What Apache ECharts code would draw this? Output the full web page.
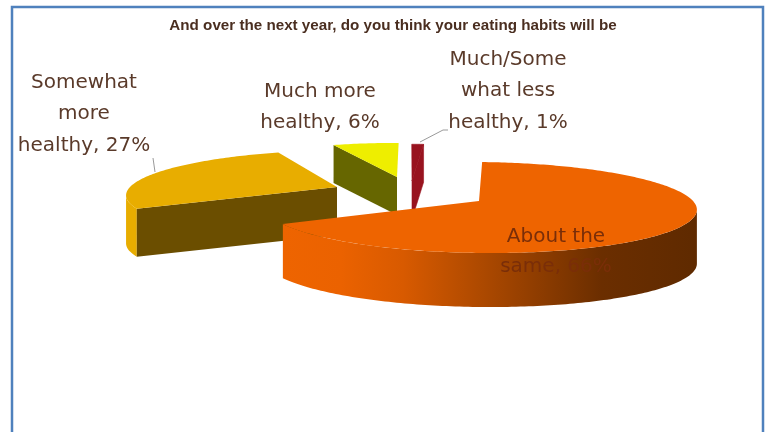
<!DOCTYPE html>
<html>
<head>
<meta charset="utf-8">
<script src="https://cdn.jsdelivr.net/npm/echarts@6/dist/echarts.min.js"></script>
<style>html,body{margin:0;padding:0;background:#fff}#chart{width:768px;height:432px}</style>
</head>
<body>
<div id="chart"></div>
<script>
// Survey answers, listed clockwise around the pie
const categories = ['About the same', 'Somewhat more healthy', 'Much more healthy', 'Much/Some what less healthy'];
const shares = [66, 27, 6, 1];
const labelLines = [
  ['About the', 'same,'],
  ['Somewhat', 'more', 'healthy,'],
  ['Much more', 'healthy,'],
  ['Much/Some', 'what less', 'healthy,']
];
const chartTitle = 'And over the next year, do you think your eating habits will be';

// Colours of each slice: top face, radial wall
const topColors = ['#EE6400', '#E8AD00', '#EEEE00', '#98131F'];
const radialColors = ['#7A3500', '#6B4E00', '#666600', '#98131F'];

// Where each exploded slice sits and how its disc is sized
const apexX = [479, 337, 397, 412];
const apexY = [201, 187, 177, 181];
const radiusX = [214, 207, 200, 215];
const radiusY = [44.6, 42, 39, 42];
const wallDepth = [54, 48, 38, 38];
const paintOrder = [10, 4, 3, 2];
const labelX = [556, 84, 320, 508];
const labelY = [222, 67, 76, 44];

const START_DEG = 3.6;      // clockwise from twelve o'clock
const PERSPECTIVE = 0.143;  // foreshortening of the back of the disc
const VANISH_X = 410;       // horizontal vanishing point of the tilted plane
const total = shares.reduce((a, b) => a + b, 0);

function project(i, deg, radius, drop) {
  const a = deg * Math.PI / 180;
  const u = Math.sin(a) * radius;
  const v = Math.cos(a) * radius;
  const s = 1 / (1 + PERSPECTIVE * v);
  return [
    VANISH_X + (apexX[i] - VANISH_X + radiusX[i] * u) * s,
    apexY[i] - radiusY[i] * v * s + drop
  ];
}

function sliceRange(i) {
  let from = START_DEG;
  for (let k = 0; k < i; k++) from += shares[k] / total * 360;
  return [from, from + shares[i] / total * 360];
}

function arcPoints(i, a0, a1, drop) {
  const pts = [];
  const n = Math.max(2, Math.ceil(Math.abs(a1 - a0)));
  for (let k = 0; k <= n; k++) pts.push(project(i, a0 + (a1 - a0) * k / n, 1, drop));
  return pts;
}

// Part of a slice's rim between its rightmost and leftmost points: the side that faces the viewer
function frontArc(i, a0, a1) {
  let right = a0, left = a0;
  for (let deg = a0; deg <= a1; deg += 0.5) {
    const x = project(i, deg, 1, 0)[0];
    if (deg < 180 && x > project(i, right, 1, 0)[0]) right = deg;
    if (deg > 180 && x < project(i, left, 1, 0)[0]) left = deg;
  }
  return [right, left];
}

function radialWall(i, deg) {
  const d = wallDepth[i];
  return [project(i, deg, 0, 0), project(i, deg, 1, 0), project(i, deg, 1, d), project(i, deg, 0, d)];
}

function renderSlice(params) {
  const i = params.dataIndex;
  const [a0, a1] = sliceRange(i);
  const d = wallDepth[i];
  const children = [];
  const z = paintOrder[i];

  // Outer wall for slices that reach the front of the disc
  if (a0 < 270) {
    const [w0, w1] = frontArc(i, a0, a1);
    const top = arcPoints(i, w0, w1, 0);
    const bottom = arcPoints(i, w0, w1, d).reverse();
    const fill = i === 0
      ? { type: 'linear', x: 1, y: 0, x2: 0, y2: 0, colorStops: [
          { offset: 0, color: '#5F2A00' }, { offset: 0.23, color: '#6B2E00' },
          { offset: 0.55, color: '#B44C00' }, { offset: 0.71, color: '#D85A00' },
          { offset: 0.86, color: '#EB6200' }, { offset: 1, color: '#EE6400' }] }
      : topColors[i];
    children.push({ type: 'polygon', z2: z, shape: { points: top.concat(bottom) }, style: { fill } });
  }

  // The radial wall the camera can see
  if (i === 1 || i === 2) {
    children.push({ type: 'polygon', z2: z + 0.1, shape: { points: radialWall(i, a0) }, style: { fill: radialColors[i] } });
  } else if (i === 3) {
    children.push({ type: 'polygon', z2: z + 0.1, shape: { points: radialWall(i, a1) },
      style: { fill: radialColors[i], stroke: radialColors[i], lineWidth: 0.6 } });
  }

  // Top face
  const face = [project(i, a0, 0, 0)].concat(arcPoints(i, a0, a1, 0));
  children.push({ type: 'polygon', z2: z + 0.2, shape: { points: face },
    style: i === 3 ? { fill: topColors[i], stroke: topColors[i], lineWidth: 0.6 } : { fill: topColors[i] } });

  // Label text
  const lines = labelLines[i].slice();
  lines[lines.length - 1] += ' ' + shares[i] + '%';
  children.push({
    type: 'text', z2: 20,
    style: {
      x: labelX[i], y: labelY[i], text: lines.join('\n'),
      font: '20px "DejaVu Sans"', lineHeight: i === 0 ? 30 : 31.5, align: 'center', verticalAlign: 'top',
      fill: i === 0 ? '#7A2E08' : '#5A3A2A'
    }
  });
  return { type: 'group', children };
}

const chart = echarts.init(document.getElementById('chart'), null, { renderer: 'canvas' });
chart.setOption({
  animation: false,
  backgroundColor: '#ffffff',
  title: {
    text: chartTitle, left: 388, top: 13, textAlign: 'center',
    textStyle: { fontFamily: 'Liberation Sans', fontSize: 15.2, fontWeight: 'bold', color: '#4A2E20' }
  },
  xAxis: { show: false, min: 0, max: 1 },
  yAxis: { show: false, min: 0, max: 1 },
  grid: { left: 0, right: 0, top: 0, bottom: 0 },
  series: [{
    type: 'custom',
    coordinateSystem: 'none',
    silent: true,
    data: shares.map((v, i) => ({ name: categories[i], value: v })),
    renderItem: renderSlice
  }],
  graphic: [
    // Frame, open along the bottom edge
    { type: 'polyline', shape: { points: [[12, 432], [12, 7], [763, 7], [763, 432]] },
      style: { fill: null, stroke: '#4F81BD', lineWidth: 2.5 } },
    // Leader lines
    { type: 'polyline', shape: { points: [[153, 158], [155, 172]] }, style: { fill: null, stroke: '#9A9A9A', lineWidth: 1 } },
    { type: 'polyline', shape: { points: [[420, 142], [443, 130], [448, 130]] }, style: { fill: null, stroke: '#9A9A9A', lineWidth: 1 } }
  ]
});
</script>
</body>
</html>
